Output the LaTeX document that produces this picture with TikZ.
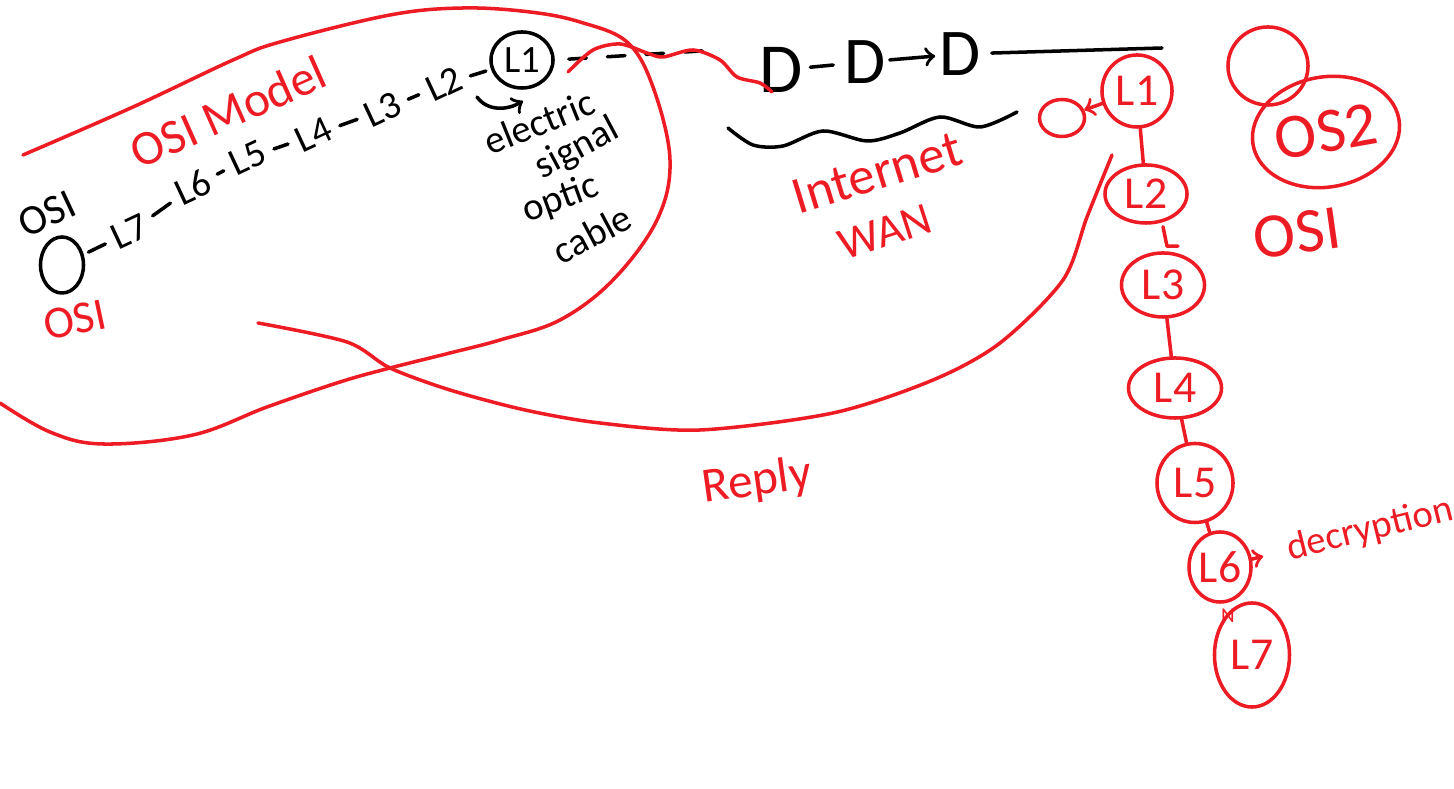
\documentclass[tikz,border=0pt]{standalone}
\usepackage{fontspec}
\setmainfont{Carlito}
\usepackage{tikz}
\usetikzlibrary{shapes, arrows, positioning, calc}

\definecolor{paintred}{RGB}{237,28,36}

\begin{document}
\begin{tikzpicture}[
    x=0.01cm, y=-0.01cm,
    pen/.style={line width=1pt, line cap=round, line join=round},
    redpen/.style={pen, draw=paintred},
    hand/.style={inner sep=1pt, font=\fontsize{11}{12}\selectfont},
    redhand/.style={hand, text=paintred, font=\fontsize{13}{14}\selectfont},
    layer/.style={ellipse, redpen, inner sep=0pt, text=paintred, font=\fontsize{13}{14}\selectfont},
    arrow/.style={->, pen}
]
    \useasboundingbox (0,0) rectangle (1454,789);

    % sending host and its stack
    \node[ellipse, draw, pen, minimum width=0.43cm, minimum height=0.56cm] (host) at (62,265) {};
    \node[hand, rotate=25, font=\fontsize{12}{12}\selectfont] (hostname) at (47,214) {OSI};
    \node[redhand, rotate=12] (hostos) at (75,320) {OSI};
    \node[redhand, rotate=24, font=\fontsize{14}{15}\selectfont] (model) at (228,112) {OSI Model};

    \foreach \n/\x/\y in {7/130/232, 6/193/187, 5/248/158, 4/314/135, 3/383/110, 2/444/84}
        \node[hand, rotate=25] (s\n) at (\x,\y) {L\n};
    \node[ellipse, draw, pen, hand, minimum width=0.62cm, minimum height=0.56cm] (s1) at (522,60) {L1};

    \foreach \a/\b in {host/s7, s7/s6, s6/s5, s5/s4, s4/s3, s3/s2, s2/s1}
        \draw[pen, shorten <=1.5pt, shorten >=1.5pt] (\a) -- (\b);

    % what L1 carries
    \node[hand, rotate=22] (electric) at (539,122) {electric};
    \node[hand, rotate=28] (signal) at (577,149) {signal};
    \node[hand, rotate=20] (optic) at (561,199) {optic};
    \node[hand, rotate=28] (cable) at (592,234) {cable};
    \coordinate (hookstart) at (477,97);
    \coordinate (hookend) at (523,101);
    \draw[arrow] (hookstart) .. controls (488,112) and (508,110) .. (hookend);

    % link to the network
    \coordinate (cableend) at (717,50);
    \draw[pen, dash pattern=on 5pt off 6pt, shorten <=4pt] (s1.east) -- (cableend);
    \node[hand, font=\fontsize{20}{20}\selectfont] (d1) at (781,70) {D};
    \node[hand, font=\fontsize{19}{19}\selectfont] (d2) at (865,62) {D};
    \node[hand, font=\fontsize{19}{19}\selectfont] (d3) at (960,54) {D};
    \draw[pen, shorten <=1pt, shorten >=2pt] (d1) -- (d2);
    \draw[arrow] (d2) -- (d3);
    \coordinate (trunkend) at (1162,48);
    \draw[pen, shorten <=2pt] (d3) -- (trunkend);
    \draw[pen] plot[smooth] coordinates {(728,128) (753,145) (783,146) (823,131) (867,141) (900,133) (940,117) (980,127) (1017,112)};
    \node[redhand, rotate=17, font=\fontsize{15}{15}\selectfont] (internet) at (877,173) {Internet};
    \node[redhand, rotate=18] (wan) at (885,232) {WAN};

    % red strokes
    \draw[redpen] plot[smooth] coordinates {(568,72) (593,50) (620,44) (647,53) (663,57) (693,50) (720,60) (737,77) (760,83) (772,92)};
    \draw[redpen] plot[smooth, tension=0.6] coordinates {(23,155) (133,107) (233,60) (280,42) (390,15) (463,8) (530,12) (580,22) (627,42) (653,87) (670,160) (657,220) (613,280) (560,320) (500,340) (450,353) (390,368) (340,382) (267,407) (193,435) (103,444) (50,432) (0,403)};
    \draw[redpen] plot[smooth] coordinates {(258,323) (347,342) (390,368) (450,390) (525,410) (600,423) (700,430) (833,413) (933,380) (1000,343) (1063,280) (1087,217) (1112,155)};
    \node[redhand, rotate=8, font=\fontsize{14}{14}\selectfont] (reply) at (757,482) {Reply};

    % receiving stack
    \node[layer, minimum width=0.70cm, minimum height=0.72cm] (r1) at (1137,91) {L1};
    \node[layer, minimum width=0.45cm, minimum height=0.37cm] (peer) at (1062,118) {};
    \draw[redpen, ->] (r1) -- (peer);
    \node[layer, minimum width=0.82cm, minimum height=0.58cm] (r2) at (1146,194) {L2};
    \node[layer, minimum width=0.83cm, minimum height=0.64cm] (r3) at (1163,285) {L3};
    \node[layer, minimum width=0.93cm, minimum height=0.60cm] (r4) at (1175,388) {L4};
    \node[layer, minimum width=0.76cm, minimum height=0.79cm] (r5) at (1195,483) {L5};
    \node[layer, minimum width=0.62cm, minimum height=0.70cm] (r6) at (1220,567) {L6};
    \node[layer, minimum width=0.75cm, minimum height=1.04cm] (r7) at (1252,655) {L7};
    \node[redhand, font=\fontsize{6}{6}\selectfont] (nmark) at (1228,616) {N};

    \draw[redpen] (r1) -- (r2);
    \draw[redpen] ($(r2.south)+(17,2)$) -- ($(r3.north)+(4,-5)$) -- ++(11,0);
    \draw[redpen] (r3) -- (r4);
    \draw[redpen] (r4) -- (r5);
    \draw[redpen] (r5) -- (r6);

    \node[redhand, rotate=14, font=\fontsize{11}{11}\selectfont] (decrypt) at (1370,530) {decryption};
    \draw[redpen, ->, shorten >=6pt] (r6) -- (decrypt);

    % second host
    \node[layer, minimum width=0.80cm, minimum height=0.78cm] (bubble) at (1268,66) {};
    \node[layer, rotate=10, minimum width=1.48cm, minimum height=1.10cm, font=\fontsize{18}{18}\selectfont] (os2) at (1326,132) {OS2};
    \node[redhand, rotate=8, font=\fontsize{18}{18}\selectfont] (os1) at (1297,233) {OSI};
\end{tikzpicture}
\end{document}
